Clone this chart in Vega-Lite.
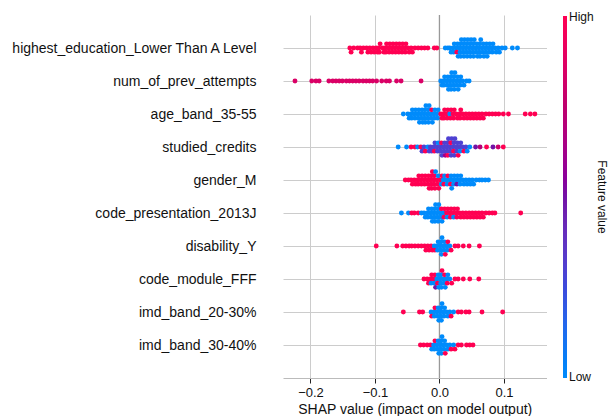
{
"$schema":"https://vega.github.io/schema/vega-lite/v6.json",
"width":263.5,"height":363,
"autosize":{"type":"none"},
"padding":{"left":283,"top":15,"right":61.5,"bottom":38},
"background":"white",
"config":{"font":"Liberation Sans","view":{"stroke":null},"axis":{"labelColor":"#111111","titleColor":"#111111"}},
"datasets":{
"features":[{"f":1,"feature":"highest_education_Lower Than A Level"},{"f":2,"feature":"num_of_prev_attempts"},{"f":3,"feature":"age_band_35-55"},{"f":4,"feature":"studied_credits"},{"f":5,"feature":"gender_M"},{"f":6,"feature":"code_presentation_2013J"},{"f":7,"feature":"disability_Y"},{"f":8,"feature":"code_module_FFF"},{"f":9,"feature":"imd_band_20-30%"},{"f":10,"feature":"imd_band_30-40%"}],
"shap":[
{"f":1,"s":0.009,"v":0},{"f":1,"s":0.013,"v":0},{"f":1,"s":0.016,"v":0},{"f":1,"s":0.018,"v":0},{"f":1,"s":0.021,"v":0},{"f":1,"s":0.022,"v":0},{"f":1,"s":0.023,"v":0},{"f":1,"s":0.026,"v":0},{"f":1,"s":0.027,"v":1},{"f":1,"s":0.028,"v":0},{"f":1,"s":0.029,"v":0},
{"f":1,"s":0.031,"v":0},{"f":1,"s":0.032,"v":0},{"f":1,"s":0.033,"v":0},{"f":1,"s":0.034,"v":0},{"f":1,"s":0.0325,"v":0},
{"f":1,"s":0.036,"v":0},{"f":1,"s":0.037,"v":0},{"f":1,"s":0.038,"v":0},{"f":1,"s":0.039,"v":0},{"f":1,"s":0.0375,"v":0},
{"f":1,"s":0.041,"v":0},{"f":1,"s":0.042,"v":0},{"f":1,"s":0.043,"v":0},{"f":1,"s":0.044,"v":0},{"f":1,"s":0.0425,"v":0},
{"f":1,"s":0.046,"v":0},{"f":1,"s":0.047,"v":0},{"f":1,"s":0.048,"v":0},{"f":1,"s":0.049,"v":0},{"f":1,"s":0.0475,"v":0},
{"f":1,"s":0.051,"v":0},{"f":1,"s":0.052,"v":0},{"f":1,"s":0.053,"v":0},{"f":1,"s":0.054,"v":0},{"f":1,"s":0.0525,"v":0},
{"f":1,"s":0.056,"v":0},{"f":1,"s":0.057,"v":0},{"f":1,"s":0.058,"v":0},{"f":1,"s":0.059,"v":0},
{"f":1,"s":0.061,"v":0},{"f":1,"s":0.062,"v":0},{"f":1,"s":0.063,"v":0},{"f":1,"s":0.064,"v":0},{"f":1,"s":0.0625,"v":0},
{"f":1,"s":0.066,"v":0},{"f":1,"s":0.067,"v":0},{"f":1,"s":0.068,"v":0},{"f":1,"s":0.069,"v":0},
{"f":1,"s":0.071,"v":0},{"f":1,"s":0.072,"v":0},{"f":1,"s":0.073,"v":0},{"f":1,"s":0.074,"v":0},
{"f":1,"s":0.076,"v":0},{"f":1,"s":0.077,"v":0},{"f":1,"s":0.078,"v":0},{"f":1,"s":0.081,"v":0},{"f":1,"s":0.082,"v":0},{"f":1,"s":0.083,"v":0},
{"f":1,"s":0.086,"v":0},{"f":1,"s":0.088,"v":0},{"f":1,"s":0.091,"v":0},{"f":1,"s":0.093,"v":0},{"f":1,"s":0.097,"v":0},{"f":1,"s":0.102,"v":0},{"f":1,"s":0.113,"v":0},{"f":1,"s":0.121,"v":0},
{"f":1,"s":-0.139,"v":1},{"f":1,"s":-0.137,"v":1},{"f":1,"s":-0.133,"v":1},{"f":1,"s":-0.127,"v":1},{"f":1,"s":-0.123,"v":1},{"f":1,"s":-0.121,"v":1},{"f":1,"s":-0.118,"v":1},{"f":1,"s":-0.113,"v":1},{"f":1,"s":-0.111,"v":1},{"f":1,"s":-0.108,"v":1},{"f":1,"s":-0.106,"v":1},{"f":1,"s":-0.103,"v":1},{"f":1,"s":-0.101,"v":1},{"f":1,"s":-0.098,"v":1},{"f":1,"s":-0.096,"v":1},{"f":1,"s":-0.094,"v":1},{"f":1,"s":-0.093,"v":1},{"f":1,"s":-0.092,"v":1},{"f":1,"s":-0.088,"v":1},{"f":1,"s":-0.086,"v":1},{"f":1,"s":-0.084,"v":1},{"f":1,"s":-0.083,"v":1},{"f":1,"s":-0.082,"v":1},{"f":1,"s":-0.079,"v":1},{"f":1,"s":-0.078,"v":1},{"f":1,"s":-0.077,"v":1},{"f":1,"s":-0.074,"v":1},{"f":1,"s":-0.073,"v":1},{"f":1,"s":-0.072,"v":1},{"f":1,"s":-0.069,"v":1},{"f":1,"s":-0.068,"v":1},{"f":1,"s":-0.067,"v":1},{"f":1,"s":-0.064,"v":1},{"f":1,"s":-0.063,"v":1},{"f":1,"s":-0.062,"v":1},{"f":1,"s":-0.059,"v":1},{"f":1,"s":-0.058,"v":1},{"f":1,"s":-0.057,"v":1},{"f":1,"s":-0.054,"v":1},{"f":1,"s":-0.053,"v":1},{"f":1,"s":-0.052,"v":1},{"f":1,"s":-0.049,"v":1},{"f":1,"s":-0.047,"v":1},{"f":1,"s":-0.044,"v":1},{"f":1,"s":-0.042,"v":1},{"f":1,"s":-0.038,"v":1},{"f":1,"s":-0.033,"v":1},{"f":1,"s":-0.028,"v":1},{"f":1,"s":-0.023,"v":1},{"f":1,"s":-0.018,"v":1},{"f":1,"s":-0.008,"v":1},{"f":1,"s":-0.004,"v":1},
{"f":2,"s":0.002,"v":0},{"f":2,"s":0.004,"v":0},{"f":2,"s":0.006,"v":0},{"f":2,"s":0.007,"v":0},{"f":2,"s":0.008,"v":0},{"f":2,"s":0.011,"v":0},{"f":2,"s":0.012,"v":0},{"f":2,"s":0.013,"v":0},{"f":2,"s":0.014,"v":0},{"f":2,"s":0.016,"v":0},{"f":2,"s":0.017,"v":0},{"f":2,"s":0.018,"v":0},{"f":2,"s":0.019,"v":0},{"f":2,"s":0.0175,"v":0},{"f":2,"s":0.021,"v":0},{"f":2,"s":0.022,"v":0},{"f":2,"s":0.023,"v":0},{"f":2,"s":0.024,"v":0},{"f":2,"s":0.0225,"v":0},{"f":2,"s":0.026,"v":0},{"f":2,"s":0.027,"v":0},{"f":2,"s":0.028,"v":0},{"f":2,"s":0.029,"v":0},{"f":2,"s":0.031,"v":0},{"f":2,"s":0.032,"v":0},{"f":2,"s":0.033,"v":0},{"f":2,"s":0.036,"v":0},{"f":2,"s":0.038,"v":0},{"f":2,"s":0.042,"v":0},{"f":2,"s":0.046,"v":0},
{"f":2,"s":-0.224,"v":0.85},{"f":2,"s":-0.198,"v":0.85},{"f":2,"s":-0.1915,"v":0.85},{"f":2,"s":-0.1865,"v":0.85},{"f":2,"s":-0.1715,"v":0.85},{"f":2,"s":-0.1655,"v":0.85},{"f":2,"s":-0.1605,"v":0.85},{"f":2,"s":-0.1555,"v":0.85},{"f":2,"s":-0.1505,"v":0.85},{"f":2,"s":-0.1445,"v":0.85},{"f":2,"s":-0.1395,"v":0.85},{"f":2,"s":-0.1345,"v":0.85},{"f":2,"s":-0.1295,"v":0.85},{"f":2,"s":-0.1245,"v":0.85},{"f":2,"s":-0.1185,"v":0.85},{"f":2,"s":-0.1135,"v":0.85},{"f":2,"s":-0.1085,"v":0.85},{"f":2,"s":-0.1035,"v":0.85},{"f":2,"s":-0.0975,"v":0.85},{"f":2,"s":-0.0895,"v":0.85},{"f":2,"s":-0.0825,"v":0.85},{"f":2,"s":-0.0775,"v":0.85},{"f":2,"s":-0.0665,"v":0.85},{"f":2,"s":-0.0595,"v":0.85},{"f":2,"s":-0.0285,"v":0.85},
{"f":3,"s":-0.056,"v":0},{"f":3,"s":-0.049,"v":0},{"f":3,"s":-0.047,"v":0},{"f":3,"s":-0.044,"v":0},{"f":3,"s":-0.043,"v":0},{"f":3,"s":-0.042,"v":0},{"f":3,"s":-0.039,"v":0},{"f":3,"s":-0.038,"v":0},{"f":3,"s":-0.037,"v":0},{"f":3,"s":-0.034,"v":0},{"f":3,"s":-0.033,"v":0},{"f":3,"s":-0.032,"v":0},{"f":3,"s":-0.031,"v":0},{"f":3,"s":-0.029,"v":0},{"f":3,"s":-0.028,"v":0},{"f":3,"s":-0.027,"v":0},{"f":3,"s":-0.026,"v":0},{"f":3,"s":-0.024,"v":0},{"f":3,"s":-0.023,"v":0},{"f":3,"s":-0.022,"v":0},{"f":3,"s":-0.021,"v":0},{"f":3,"s":-0.0225,"v":0},{"f":3,"s":-0.019,"v":0},{"f":3,"s":-0.018,"v":0},{"f":3,"s":-0.017,"v":0},{"f":3,"s":-0.016,"v":0},{"f":3,"s":-0.0175,"v":0},{"f":3,"s":-0.014,"v":0},{"f":3,"s":-0.013,"v":0},{"f":3,"s":-0.012,"v":1},{"f":3,"s":-0.011,"v":0},{"f":3,"s":-0.009,"v":0},{"f":3,"s":-0.008,"v":0},{"f":3,"s":-0.007,"v":0},{"f":3,"s":-0.004,"v":0},{"f":3,"s":-0.003,"v":0},{"f":3,"s":-0.002,"v":0},
{"f":3,"s":0.002,"v":1},{"f":3,"s":0.004,"v":1},{"f":3,"s":0.006,"v":1},{"f":3,"s":0.007,"v":1},{"f":3,"s":0.008,"v":1},{"f":3,"s":0.011,"v":1},{"f":3,"s":0.012,"v":1},{"f":3,"s":0.013,"v":1},{"f":3,"s":0.016,"v":0},{"f":3,"s":0.017,"v":1},{"f":3,"s":0.018,"v":1},{"f":3,"s":0.021,"v":1},{"f":3,"s":0.022,"v":1},{"f":3,"s":0.023,"v":1},{"f":3,"s":0.026,"v":1},{"f":3,"s":0.028,"v":1},{"f":3,"s":0.031,"v":1},{"f":3,"s":0.032,"v":1},{"f":3,"s":0.033,"v":1},{"f":3,"s":0.036,"v":1},{"f":3,"s":0.038,"v":1},{"f":3,"s":0.041,"v":1},{"f":3,"s":0.043,"v":1},{"f":3,"s":0.046,"v":1},{"f":3,"s":0.048,"v":1},{"f":3,"s":0.051,"v":1},{"f":3,"s":0.053,"v":1},{"f":3,"s":0.056,"v":1},{"f":3,"s":0.058,"v":1},{"f":3,"s":0.061,"v":1},{"f":3,"s":0.063,"v":1},{"f":3,"s":0.066,"v":1},{"f":3,"s":0.068,"v":1},{"f":3,"s":0.072,"v":1},{"f":3,"s":0.077,"v":1},{"f":3,"s":0.082,"v":1},{"f":3,"s":0.087,"v":1},{"f":3,"s":0.092,"v":1},{"f":3,"s":0.099,"v":1},{"f":3,"s":0.107,"v":1},{"f":3,"s":0.133,"v":1},{"f":3,"s":0.141,"v":1},{"f":3,"s":0.148,"v":1},
{"f":4,"s":-0.064,"v":0},{"f":4,"s":-0.051,"v":0},{"f":4,"s":-0.044,"v":1},{"f":4,"s":-0.038,"v":1},{"f":4,"s":-0.034,"v":0},{"f":4,"s":-0.029,"v":1},{"f":4,"s":-0.027,"v":0.3},{"f":4,"s":-0.024,"v":0.3},{"f":4,"s":-0.022,"v":1},{"f":4,"s":-0.018,"v":0},{"f":4,"s":-0.016,"v":0.3},{"f":4,"s":-0.014,"v":0.3},{"f":4,"s":-0.012,"v":0.3},{"f":4,"s":-0.009,"v":0.3},{"f":4,"s":-0.008,"v":1},{"f":4,"s":-0.007,"v":0.3},{"f":4,"s":-0.004,"v":0.3},{"f":4,"s":-0.003,"v":0.3},{"f":4,"s":-0.002,"v":0},
{"f":4,"s":0.001,"v":0.3},{"f":4,"s":0.002,"v":0.3},{"f":4,"s":0.003,"v":1},{"f":4,"s":0.004,"v":0.3},{"f":4,"s":0.006,"v":0.3},{"f":4,"s":0.007,"v":0.3},{"f":4,"s":0.008,"v":0.3},{"f":4,"s":0.009,"v":0.6},{"f":4,"s":0.011,"v":0.3},{"f":4,"s":0.012,"v":0.3},{"f":4,"s":0.013,"v":1},{"f":4,"s":0.014,"v":0.3},{"f":4,"s":0.0125,"v":0.3},{"f":4,"s":0.016,"v":0.3},{"f":4,"s":0.017,"v":0.3},{"f":4,"s":0.018,"v":0.3},{"f":4,"s":0.019,"v":0.3},{"f":4,"s":0.0175,"v":1},{"f":4,"s":0.021,"v":0.3},{"f":4,"s":0.022,"v":1},{"f":4,"s":0.023,"v":0.3},{"f":4,"s":0.024,"v":0.3},{"f":4,"s":0.0225,"v":0.3},{"f":4,"s":0.026,"v":0.3},{"f":4,"s":0.027,"v":0.3},{"f":4,"s":0.028,"v":0.3},{"f":4,"s":0.029,"v":1},{"f":4,"s":0.031,"v":0.3},{"f":4,"s":0.032,"v":0},{"f":4,"s":0.033,"v":0.3},{"f":4,"s":0.036,"v":0.3},{"f":4,"s":0.038,"v":1},{"f":4,"s":0.041,"v":0.3},{"f":4,"s":0.043,"v":0},{"f":4,"s":0.047,"v":0},{"f":4,"s":0.056,"v":0.5},{"f":4,"s":0.063,"v":0.7},{"f":4,"s":0.073,"v":1},{"f":4,"s":0.083,"v":0.5},{"f":4,"s":0.091,"v":0.8},{"f":4,"s":0.099,"v":1},
{"f":5,"s":-0.053,"v":1},{"f":5,"s":-0.048,"v":1},{"f":5,"s":-0.044,"v":1},{"f":5,"s":-0.042,"v":1},{"f":5,"s":-0.039,"v":1},{"f":5,"s":-0.037,"v":1},{"f":5,"s":-0.034,"v":1},{"f":5,"s":-0.033,"v":1},{"f":5,"s":-0.032,"v":1},{"f":5,"s":-0.029,"v":1},{"f":5,"s":-0.028,"v":1},{"f":5,"s":-0.027,"v":1},{"f":5,"s":-0.024,"v":1},{"f":5,"s":-0.023,"v":1},{"f":5,"s":-0.022,"v":1},{"f":5,"s":-0.019,"v":1},{"f":5,"s":-0.018,"v":1},{"f":5,"s":-0.017,"v":1},{"f":5,"s":-0.016,"v":1},{"f":5,"s":-0.014,"v":1},{"f":5,"s":-0.013,"v":1},{"f":5,"s":-0.012,"v":1},{"f":5,"s":-0.011,"v":1},{"f":5,"s":-0.0125,"v":1},{"f":5,"s":-0.009,"v":1},{"f":5,"s":-0.008,"v":1},{"f":5,"s":-0.007,"v":1},{"f":5,"s":-0.006,"v":0},{"f":5,"s":-0.0085,"v":1},{"f":5,"s":-0.004,"v":1},{"f":5,"s":-0.003,"v":1},{"f":5,"s":-0.002,"v":0},{"f":5,"s":-0.001,"v":1},
{"f":5,"s":0.001,"v":1},{"f":5,"s":0.003,"v":0},{"f":5,"s":0.004,"v":1},{"f":5,"s":0.006,"v":0},{"f":5,"s":0.007,"v":1},{"f":5,"s":0.008,"v":0},{"f":5,"s":0.011,"v":0},{"f":5,"s":0.012,"v":0},{"f":5,"s":0.013,"v":1},{"f":5,"s":0.016,"v":0},{"f":5,"s":0.017,"v":1},{"f":5,"s":0.018,"v":0},{"f":5,"s":0.019,"v":0},{"f":5,"s":0.021,"v":0},{"f":5,"s":0.022,"v":0},{"f":5,"s":0.023,"v":0},{"f":5,"s":0.026,"v":0},{"f":5,"s":0.027,"v":0.5},{"f":5,"s":0.028,"v":0},{"f":5,"s":0.031,"v":0},{"f":5,"s":0.032,"v":0},{"f":5,"s":0.033,"v":0},{"f":5,"s":0.036,"v":0},{"f":5,"s":0.038,"v":0},{"f":5,"s":0.041,"v":0},{"f":5,"s":0.043,"v":0},{"f":5,"s":0.046,"v":0},{"f":5,"s":0.048,"v":0},{"f":5,"s":0.051,"v":0},{"f":5,"s":0.053,"v":0},{"f":5,"s":0.057,"v":0},{"f":5,"s":0.062,"v":0},{"f":5,"s":0.066,"v":0},{"f":5,"s":0.071,"v":0},{"f":5,"s":0.076,"v":0},
{"f":6,"s":-0.059,"v":0},{"f":6,"s":-0.048,"v":0},{"f":6,"s":-0.043,"v":1},{"f":6,"s":-0.039,"v":1},{"f":6,"s":-0.033,"v":1},{"f":6,"s":-0.028,"v":0},{"f":6,"s":-0.024,"v":0},{"f":6,"s":-0.022,"v":0},{"f":6,"s":-0.019,"v":0},{"f":6,"s":-0.018,"v":0},{"f":6,"s":-0.017,"v":0},{"f":6,"s":-0.014,"v":0},{"f":6,"s":-0.013,"v":0},{"f":6,"s":-0.012,"v":0},{"f":6,"s":-0.011,"v":0},{"f":6,"s":-0.009,"v":0},{"f":6,"s":-0.008,"v":0},{"f":6,"s":-0.007,"v":0},{"f":6,"s":-0.006,"v":0},{"f":6,"s":-0.0075,"v":0},{"f":6,"s":-0.004,"v":0},{"f":6,"s":-0.003,"v":0},{"f":6,"s":-0.002,"v":0},{"f":6,"s":-0.001,"v":0},{"f":6,"s":-0.0025,"v":0},{"f":6,"s":0.001,"v":0},{"f":6,"s":0.002,"v":0},{"f":6,"s":0.003,"v":1},{"f":6,"s":0.004,"v":0},
{"f":6,"s":0.006,"v":0},{"f":6,"s":0.007,"v":1},{"f":6,"s":0.008,"v":1},{"f":6,"s":0.011,"v":1},{"f":6,"s":0.012,"v":0},{"f":6,"s":0.013,"v":1},{"f":6,"s":0.016,"v":1},{"f":6,"s":0.017,"v":1},{"f":6,"s":0.018,"v":1},{"f":6,"s":0.021,"v":1},{"f":6,"s":0.022,"v":0},{"f":6,"s":0.023,"v":1},{"f":6,"s":0.026,"v":1},{"f":6,"s":0.027,"v":1},{"f":6,"s":0.028,"v":1},{"f":6,"s":0.031,"v":1},{"f":6,"s":0.033,"v":1},{"f":6,"s":0.036,"v":1},{"f":6,"s":0.038,"v":1},{"f":6,"s":0.041,"v":1},{"f":6,"s":0.043,"v":1},{"f":6,"s":0.046,"v":1},{"f":6,"s":0.048,"v":1},{"f":6,"s":0.051,"v":1},{"f":6,"s":0.053,"v":1},{"f":6,"s":0.056,"v":1},{"f":6,"s":0.058,"v":1},{"f":6,"s":0.061,"v":1},{"f":6,"s":0.063,"v":1},{"f":6,"s":0.066,"v":1},{"f":6,"s":0.068,"v":1},{"f":6,"s":0.072,"v":1},{"f":6,"s":0.077,"v":1},{"f":6,"s":0.082,"v":1},{"f":6,"s":0.086,"v":1},{"f":6,"s":0.126,"v":1},
{"f":7,"s":-0.098,"v":1},{"f":7,"s":-0.066,"v":1},{"f":7,"s":-0.057,"v":1},{"f":7,"s":-0.052,"v":1},{"f":7,"s":-0.047,"v":1},{"f":7,"s":-0.043,"v":1},{"f":7,"s":-0.038,"v":1},{"f":7,"s":-0.033,"v":1},{"f":7,"s":-0.028,"v":1},{"f":7,"s":-0.023,"v":1},{"f":7,"s":-0.021,"v":1},{"f":7,"s":-0.018,"v":1},{"f":7,"s":-0.016,"v":1},{"f":7,"s":-0.013,"v":1},{"f":7,"s":-0.011,"v":1},{"f":7,"s":-0.008,"v":0},{"f":7,"s":-0.007,"v":1},{"f":7,"s":-0.004,"v":0},{"f":7,"s":-0.003,"v":0},{"f":7,"s":-0.002,"v":0},{"f":7,"s":0.001,"v":0},{"f":7,"s":0.002,"v":0},{"f":7,"s":0.003,"v":0},{"f":7,"s":0.004,"v":0},{"f":7,"s":0.0025,"v":0},{"f":7,"s":0.006,"v":0},{"f":7,"s":0.007,"v":0},{"f":7,"s":0.008,"v":0},{"f":7,"s":0.009,"v":1},{"f":7,"s":0.011,"v":0},{"f":7,"s":0.012,"v":0},{"f":7,"s":0.013,"v":1},{"f":7,"s":0.016,"v":0},{"f":7,"s":0.018,"v":1},{"f":7,"s":0.024,"v":1},{"f":7,"s":0.029,"v":1},{"f":7,"s":0.037,"v":1},{"f":7,"s":0.046,"v":1},{"f":7,"s":0.062,"v":1},
{"f":8,"s":-0.024,"v":1},{"f":8,"s":-0.019,"v":1},{"f":8,"s":-0.017,"v":1},{"f":8,"s":-0.014,"v":1},{"f":8,"s":-0.013,"v":0},{"f":8,"s":-0.012,"v":1},{"f":8,"s":-0.009,"v":1},{"f":8,"s":-0.008,"v":0},{"f":8,"s":-0.007,"v":1},{"f":8,"s":-0.006,"v":0.5},{"f":8,"s":-0.004,"v":0},{"f":8,"s":-0.003,"v":1},{"f":8,"s":-0.002,"v":0},{"f":8,"s":-0.001,"v":0},{"f":8,"s":0.001,"v":0},{"f":8,"s":0.002,"v":0},{"f":8,"s":0.003,"v":0},{"f":8,"s":0.004,"v":1},{"f":8,"s":0.0025,"v":0},{"f":8,"s":0.006,"v":0},{"f":8,"s":0.007,"v":0},{"f":8,"s":0.008,"v":1},{"f":8,"s":0.009,"v":0},{"f":8,"s":0.011,"v":0},{"f":8,"s":0.012,"v":1},{"f":8,"s":0.013,"v":0},{"f":8,"s":0.016,"v":0},{"f":8,"s":0.019,"v":1},{"f":8,"s":0.024,"v":1},{"f":8,"s":0.029,"v":1},{"f":8,"s":0.037,"v":1},{"f":8,"s":0.047,"v":1},{"f":8,"s":0.061,"v":1},
{"f":9,"s":-0.056,"v":1},{"f":9,"s":-0.031,"v":1},{"f":9,"s":-0.026,"v":1},{"f":9,"s":-0.013,"v":0},{"f":9,"s":-0.012,"v":1},{"f":9,"s":-0.009,"v":0},{"f":9,"s":-0.008,"v":0},{"f":9,"s":-0.007,"v":1},{"f":9,"s":-0.004,"v":0},{"f":9,"s":-0.003,"v":0},{"f":9,"s":-0.002,"v":0},{"f":9,"s":-0.001,"v":0},{"f":9,"s":0.001,"v":0},{"f":9,"s":0.002,"v":0},{"f":9,"s":0.003,"v":0},{"f":9,"s":0.004,"v":0},{"f":9,"s":0.0025,"v":0},{"f":9,"s":0.006,"v":0},{"f":9,"s":0.007,"v":0},{"f":9,"s":0.008,"v":0},{"f":9,"s":0.011,"v":0},{"f":9,"s":0.013,"v":0},{"f":9,"s":0.016,"v":0},{"f":9,"s":0.018,"v":1},{"f":9,"s":0.022,"v":0},{"f":9,"s":0.029,"v":1},{"f":9,"s":0.034,"v":1},{"f":9,"s":0.041,"v":1},{"f":9,"s":0.046,"v":1},{"f":9,"s":0.066,"v":1},{"f":9,"s":0.098,"v":1},
{"f":10,"s":-0.0295,"v":1},{"f":10,"s":-0.0245,"v":1},{"f":10,"s":-0.019,"v":1},{"f":10,"s":-0.014,"v":1},{"f":10,"s":-0.012,"v":0},{"f":10,"s":-0.009,"v":0},{"f":10,"s":-0.008,"v":0},{"f":10,"s":-0.007,"v":1},{"f":10,"s":-0.004,"v":0},{"f":10,"s":-0.003,"v":0},{"f":10,"s":-0.002,"v":0},{"f":10,"s":-0.001,"v":0},{"f":10,"s":0.001,"v":0},{"f":10,"s":0.002,"v":0},{"f":10,"s":0.003,"v":0},{"f":10,"s":0.004,"v":0},{"f":10,"s":0.0025,"v":0},{"f":10,"s":0.006,"v":0},{"f":10,"s":0.007,"v":0},{"f":10,"s":0.008,"v":0},{"f":10,"s":0.009,"v":1},{"f":10,"s":0.011,"v":0},{"f":10,"s":0.013,"v":0},{"f":10,"s":0.016,"v":0},{"f":10,"s":0.018,"v":1},{"f":10,"s":0.022,"v":0},{"f":10,"s":0.024,"v":1},{"f":10,"s":0.029,"v":1},{"f":10,"s":0.034,"v":1},{"f":10,"s":0.042,"v":1},{"f":10,"s":0.047,"v":1},{"f":10,"s":0.052,"v":1}
]},
"layer":[
{"data":{"values":[{}]},"mark":{"type":"rule","color":"#999999","strokeWidth":1.3},"encoding":{"x":{"datum":0,"type":"quantitative"}}},
{"data":{"name":"shap"},
"transform":[
{"lookup":"f","from":{"data":{"name":"features"},"key":"f","fields":["feature"]}},
{"calculate":"floor(datum.s/0.005)","as":"bin"},
{"window":[{"op":"row_number","as":"r"}],"groupby":["f","bin"],"sort":[{"field":"s","order":"ascending"}]},
{"joinaggregate":[{"op":"max","field":"r","as":"mr"}],"groupby":["f"]},
{"calculate":"ceil((datum.r-1)/2)*((datum.r-1)%2*2-1)/(ceil((datum.mr-1)/2)+1)","as":"yo"}
],
"mark":{"type":"circle","size":24,"opacity":1},
"encoding":{
"x":{"field":"s","type":"quantitative","scale":{"domain":[-0.2426,0.166],"nice":false,"zero":false},
 "axis":{"values":[-0.2,-0.1,0,0.1],"labelExpr":"replace(format(datum.value,'.1f'),'-','\u2212')","title":"SHAP value (impact on model output)","titleFontSize":14,"titleFontWeight":"normal","titlePadding":3,"labelFontSize":13,"labelPadding":3,"grid":true,"gridColor":"#cccccc","gridWidth":1,"domainColor":"#bbbbbb","tickColor":"#222222","tickSize":5,"tickWidth":1}},
"y":{"field":"feature","type":"nominal","sort":{"field":"f","op":"min","order":"ascending"},"scale":{"type":"point","padding":1},
 "axis":{"title":null,"domain":false,"ticks":false,"labelPadding":27,"labelFontSize":14,"labelLimit":400,"grid":true,"gridColor":"#cccccc","gridWidth":1}},
"yOffset":{"field":"yo","type":"quantitative","scale":{"domain":[-1,1],"range":[-12.5,12.5]}},
"color":{"field":"v","type":"quantitative","scale":{"domain":[0,1],"range":["#008bfb","#3c4adc","#7312a6","#bd006d","#ff0052"]},
 "legend":{"orient":"none","legendX":280,"legendY":1,"direction":"vertical","gradientLength":362,"gradientThickness":4,"gradientStrokeWidth":0,"values":[0.004,0.996],"labelExpr":"datum.value>0.5?'High':'Low'","labelFontSize":12,"labelColor":"#111111","labelBaseline":"middle","title":"Feature value","titleOrient":"right","titleAngle":270,"titleAnchor":"middle","titlePadding":1,"titleFontSize":12,"titleFontWeight":"normal","titleColor":"#111111","padding":0,"offset":0}}
}}
]
}
